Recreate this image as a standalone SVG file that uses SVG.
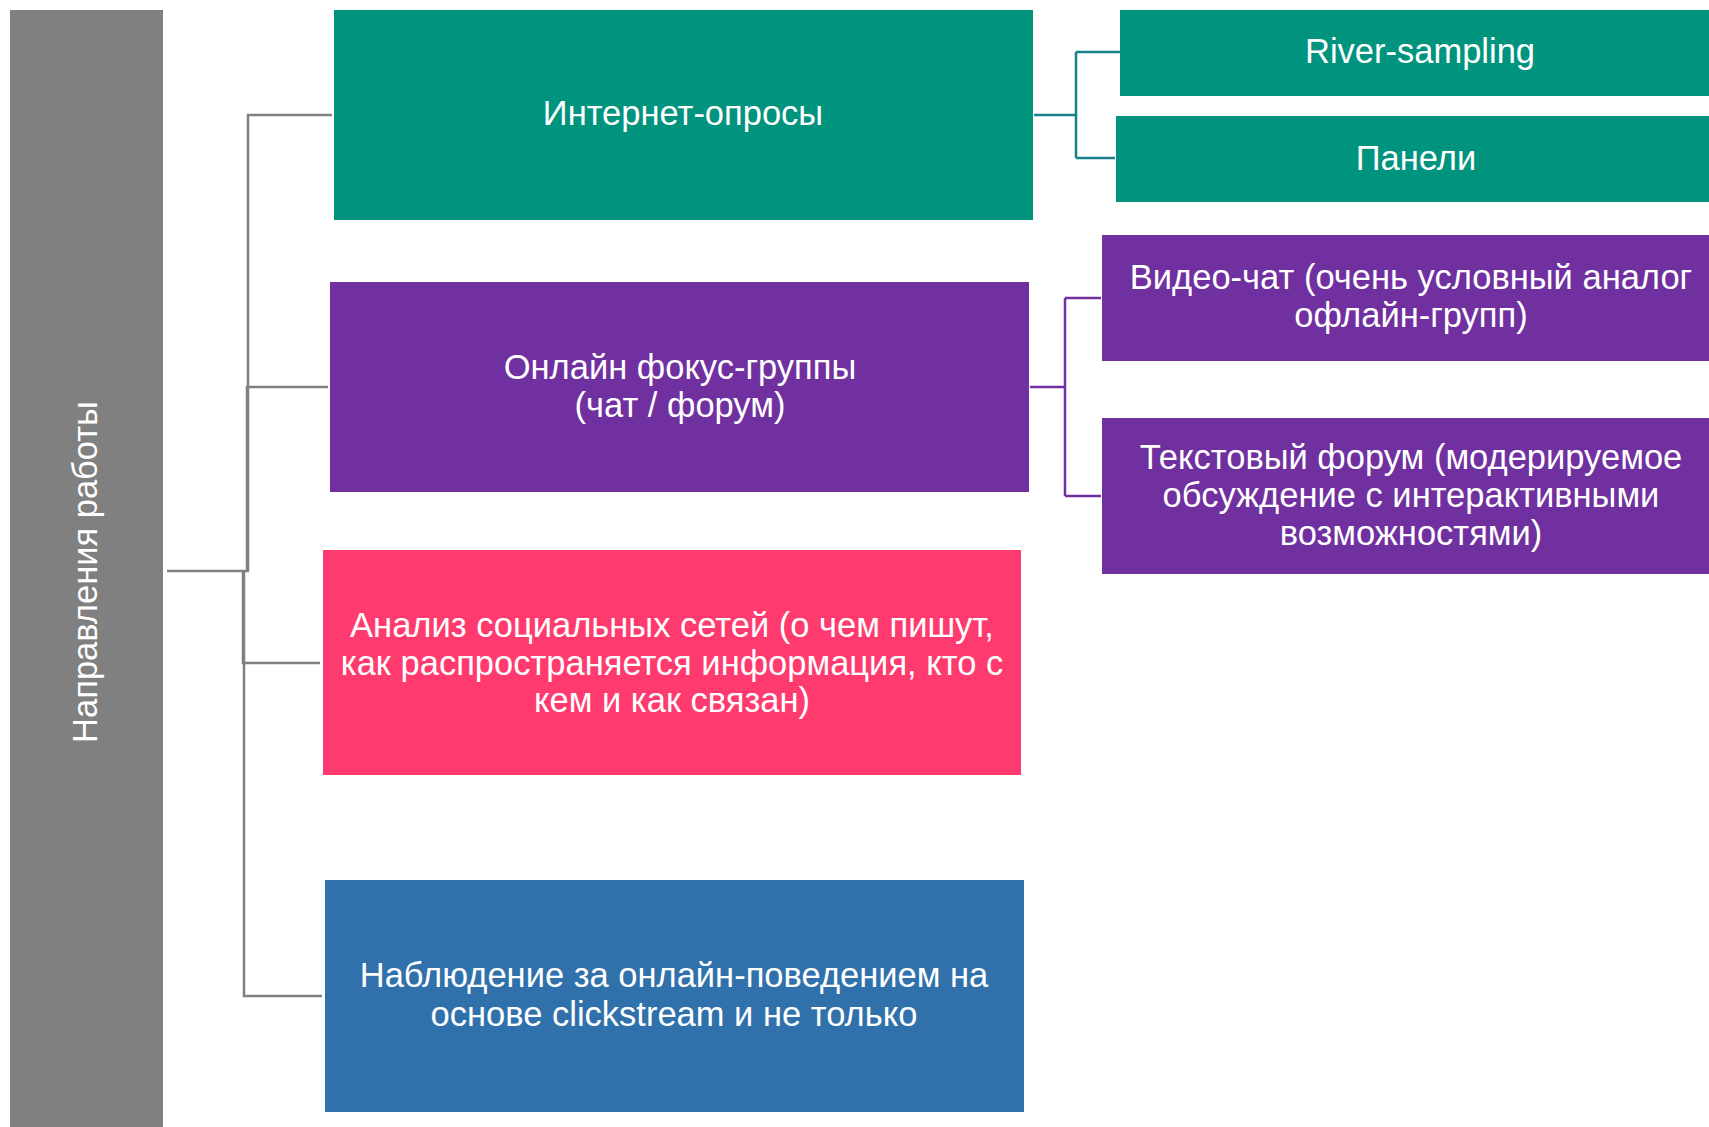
<svg xmlns="http://www.w3.org/2000/svg" width="1709" height="1127" viewBox="0 0 1709 1127">
<style>
.t{font-family:"Liberation Sans",Arial,sans-serif;font-size:34.5px;fill:#ffffff;text-anchor:middle}
.c{fill:none;stroke-width:2.5}
.g{stroke:#808080}
.tl{stroke:#17808a}
.pp{stroke:#7030a0}
</style>
<rect width="1709" height="1127" fill="#ffffff"/>
<g id="connectors">
<path class="c g" d="M167 571 H249 M248 571 V115 H332 M247 571 V387 H328 M243 571 V663 H320 M244 571 V996 H322"/>
<path class="c tl" d="M1034 115 H1076 M1076 52 V158 M1076 52 H1120 M1076 158 H1115"/>
<path class="c pp" d="M1030 387 H1065 M1065 298 V496 M1065 298 H1101 M1065 496 H1101"/>
</g>
<g id="root">
<rect x="10" y="10" width="153" height="1117" fill="#808080"/>
<text class="t" transform="translate(97 572) rotate(-90)">Направления работы</text>
</g>
<g id="internet">
<rect x="334" y="10" width="699" height="210" fill="#00937e"/>
<text class="t" x="683" y="125">Интернет-опросы</text>
</g>
<g id="river">
<rect x="1120" y="10" width="589" height="86" fill="#00937e"/>
<text class="t" x="1420" y="63">River-sampling</text>
</g>
<g id="panels">
<rect x="1116" y="116" width="593" height="86" fill="#00937e"/>
<text class="t" x="1416" y="170">Панели</text>
</g>
<g id="focus">
<rect x="330" y="282" width="699" height="210" fill="#7030a0"/>
<text class="t" x="680" y="379">Онлайн фокус-группы</text>
<text class="t" x="680" y="417">(чат / форум)</text>
</g>
<g id="video">
<rect x="1102" y="235" width="607" height="126" fill="#7030a0"/>
<text class="t" x="1411" y="289">Видео-чат (очень условный аналог</text>
<text class="t" x="1411" y="327">офлайн-групп)</text>
</g>
<g id="forum">
<rect x="1102" y="418" width="607" height="156" fill="#7030a0"/>
<text class="t" x="1411" y="469">Текстовый форум (модерируемое</text>
<text class="t" x="1411" y="507">обсуждение с интерактивными</text>
<text class="t" x="1411" y="545">возможностями)</text>
</g>
<g id="social">
<rect x="323" y="550" width="698" height="225" fill="#ff3a6e"/>
<text class="t" x="672" y="637">Анализ социальных сетей (о чем пишут,</text>
<text class="t" x="672" y="675">как распространяется информация, кто с</text>
<text class="t" x="672" y="712">кем и как связан)</text>
</g>
<g id="clickstream">
<rect x="325" y="880" width="699" height="232" fill="#3071ac"/>
<text class="t" x="674" y="987">Наблюдение за онлайн-поведением на</text>
<text class="t" x="674" y="1026">основе clickstream и не только</text>
</g>
</svg>
